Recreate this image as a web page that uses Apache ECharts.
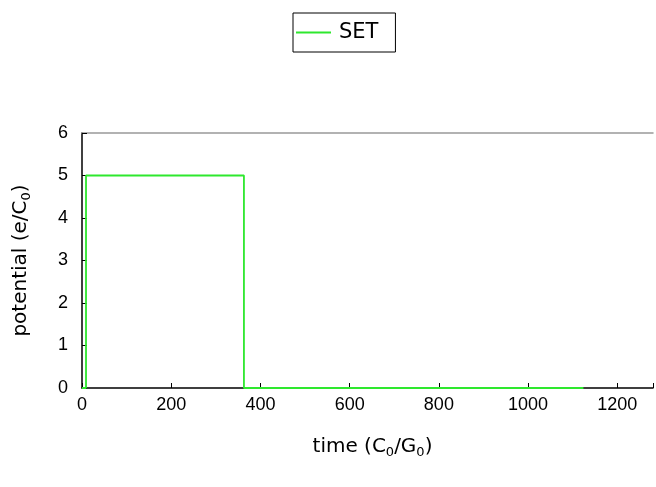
<!DOCTYPE html>
<html>
<head>
<meta charset="utf-8">
<script src="https://cdn.jsdelivr.net/npm/echarts@6/dist/echarts.min.js"></script>
<style>html,body{margin:0;padding:0;background:#fff}#c{width:656px;height:487px}</style>
</head>
<body>
<div id="c"></div>
<script>
const seriesName = 'SET';
const times = [0, 9, 9, 363, 363, 1124];
const potentials = [0, 0, 5, 5, 0, 0];
const xTicks = [0, 200, 400, 600, 800, 1000, 1200];
const yTicks = [0, 1, 2, 3, 4, 5, 6];

const chart = echarts.init(document.getElementById('c'), null, {renderer: 'canvas'});
const font = 'Liberation Sans, Arial, sans-serif';
const tfont = 'DejaVu Sans, Verdana, sans-serif';
const green = '#2ee82e';
const xMax = 1280;
chart.setOption({
  animation: false,
  backgroundColor: '#fff',
  legend: {
    top: 13, left: 293,
    data: [{name: seriesName, icon: 'rect'}],
    borderColor: '#000', borderWidth: 1, padding: [9, 17, 9, 3],
    itemWidth: 35, itemHeight: 2, itemGap: 6,
    itemStyle: {color: green},
    textStyle: {fontFamily: tfont, fontSize: 21, color: '#000', lineHeight: 21, padding: [0, 0, 0, 3]}
  },
  grid: {left: 82, right: 0, top: 133, bottom: 99, show: false},
  xAxis: [{
    type: 'value', min: 0, max: xMax, interval: 200,
    axisLine: {show: true, lineStyle: {color: '#000', width: 1.5}},
    axisTick: {show: true, inside: true, length: 5, lineStyle: {color: '#000'}},
    splitLine: {show: false},
    axisLabel: {fontFamily: font, fontSize: 18, color: '#000', margin: 8,
      formatter: v => xTicks.includes(v) ? String(v) : ''},
    name: '{a|time (C}{s|0}{a|/G}{s|0}{a|)}',
    nameLocation: 'middle', nameGap: 47,
    nameTextStyle: {padding: [0, 0, 0, 10], rich: {
      a: {fontFamily: tfont, fontSize: 20, color: '#000', lineHeight: 24},
      s: {fontFamily: tfont, fontSize: 13, color: '#000', verticalAlign: 'bottom', lineHeight: 17, padding: [8,0,0,0]}
    }}
  }, {
    type: 'value', min: 0, max: xMax, position: 'top',
    axisLine: {show: true, onZero: false, lineStyle: {color: '#999', width: 1.5}},
    axisTick: {show: false}, axisLabel: {show: false}, splitLine: {show: false}
  }],
  yAxis: {
    type: 'value', min: 0, max: 6, interval: 1,
    axisLine: {show: true, lineStyle: {color: '#000', width: 1.5}},
    axisTick: {show: true, inside: true, length: 5, lineStyle: {color: '#000'}},
    splitLine: {show: false},
    axisLabel: {fontFamily: font, fontSize: 18, color: '#000', margin: 14,
      formatter: v => yTicks.includes(v) ? String(v) : ''},
    name: '{a|potential (e/C}{s|0}{a|)}',
    nameLocation: 'middle', nameGap: 49, nameRotate: 90,
    nameTextStyle: {rich: {
      a: {fontFamily: tfont, fontSize: 20, color: '#000', lineHeight: 24},
      s: {fontFamily: tfont, fontSize: 13, color: '#000', verticalAlign: 'bottom', lineHeight: 17, padding: [8,0,0,0]}
    }}
  },
  series: [{
    name: seriesName, type: 'line', xAxisIndex: 0,
    data: times.map((t, i) => [t, potentials[i]]),
    symbol: 'none', showSymbol: false,
    lineStyle: {color: green, width: 1.8},
    itemStyle: {color: green},
    clip: true
  }]
});
</script>
</body>
</html>
